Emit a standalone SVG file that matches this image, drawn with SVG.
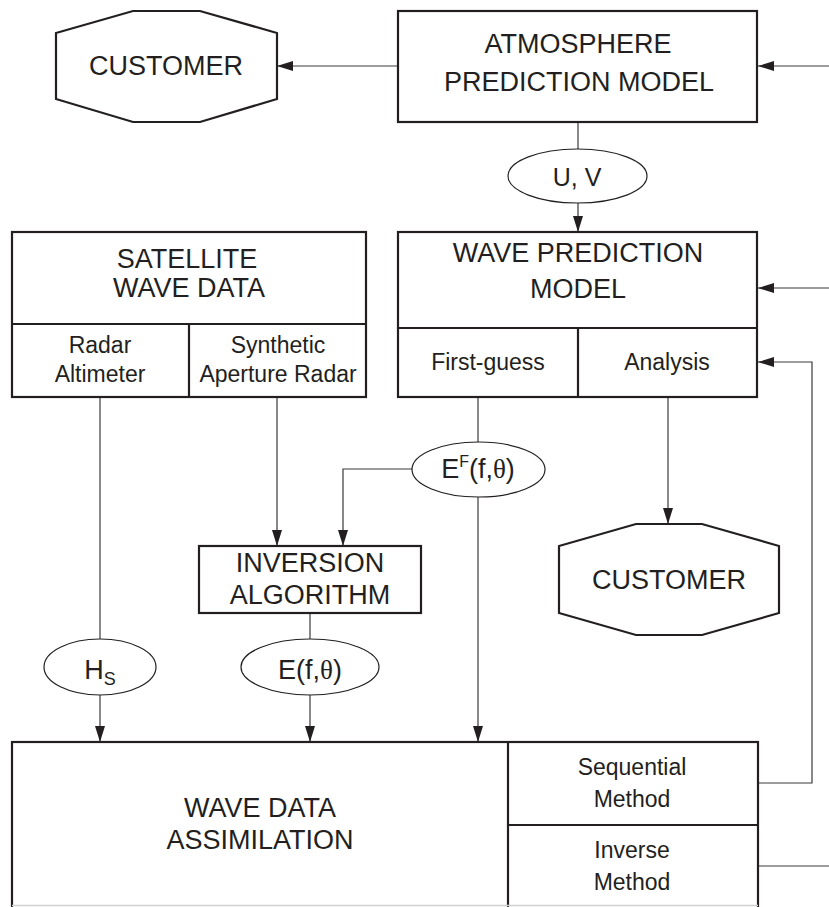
<svg xmlns="http://www.w3.org/2000/svg" width="829" height="907" viewBox="0 0 829 907">
<style>
.box{fill:#fff;stroke:#231f20;stroke-width:2.2}
.div{fill:none;stroke:#231f20;stroke-width:2.2}
.ell{fill:#fff;stroke:#231f20;stroke-width:1.2}
.con{fill:none;stroke:#3a3a3a;stroke-width:1.2}
.arr{marker-end:url(#ah)}
text{font-family:"Liberation Sans",Arial,Helvetica,sans-serif;fill:#231f20;text-anchor:middle}
.big{font-size:27px}
.sm{font-size:23px}
.gr{font-family:"Liberation Serif","DejaVu Serif",serif}
</style>
<defs>
<marker id="ah" viewBox="0 0 16 10" refX="16" refY="5" markerWidth="16" markerHeight="10" orient="auto" markerUnits="userSpaceOnUse">
<path d="M0,0 L16,5 L0,10 z" fill="#231f20"/>
</marker>
</defs>
<rect width="829" height="907" fill="#fff"/>

<g id="connectors">
<path class="con arr" d="M398,66 H277"/>
<path class="con arr" d="M829,66 H758"/>
<path class="con" d="M578,122 V149"/>
<path class="con arr" d="M578,203 V232"/>
<path class="con arr" d="M829,288 H758"/>
<path class="con arr" d="M758,783 H812 V362 H758"/>
<path class="con" d="M478,397 V442"/>
<path class="con arr" d="M668,397 V524"/>
<path class="con arr" d="M277,397 V546"/>
<path class="con arr" d="M412,469 H343 V546"/>
<path class="con arr" d="M478,497 V742"/>
<path class="con" d="M100,397 V639"/>
<path class="con arr" d="M100,695 V742"/>
<path class="con" d="M310,613 V639"/>
<path class="con arr" d="M310,695 V742"/>
<path class="con" d="M758,866 H829"/>
</g>

<g id="customer-top">
<polygon class="box" points="133,11 200,11 277,33 277,99 200,122 133,122 56,99 56,33"/>
<text class="big" x="166" y="75">CUSTOMER</text>
</g>

<g id="atmosphere-model">
<rect class="box" x="398" y="11" width="359" height="111"/>
<text class="big" x="578" y="53">ATMOSPHERE</text>
<text class="big" x="579" y="91">PREDICTION MODEL</text>
</g>

<g id="uv">
<ellipse class="ell" cx="577.5" cy="176" rx="69.5" ry="27"/>
<text class="big" x="577" y="186" style="font-size:25px">U, V</text>
</g>

<g id="satellite-data">
<rect class="box" x="12" y="232" width="354" height="165"/>
<path class="div" d="M12,324 H366 M189,324 V397"/>
<text class="big" x="187" y="268">SATELLITE</text>
<text class="big" x="189" y="297">WAVE DATA</text>
<text class="sm" x="100" y="353">Radar</text>
<text class="sm" x="100" y="382">Altimeter</text>
<text class="sm" x="278" y="353">Synthetic</text>
<text class="sm" x="278" y="382">Aperture Radar</text>
</g>

<g id="wave-model">
<rect class="box" x="398" y="232" width="359" height="165"/>
<path class="div" d="M398,328 H757 M578,328 V397"/>
<text class="big" x="578" y="262">WAVE PREDICTION</text>
<text class="big" x="578" y="298">MODEL</text>
<text class="sm" x="488" y="370">First-guess</text>
<text class="sm" x="667" y="370">Analysis</text>
</g>

<g id="ef">
<ellipse class="ell" cx="478.5" cy="469.5" rx="66.5" ry="27.5"/>
<text class="big" x="478" y="478">E<tspan dy="-11" style="font-size:16px">F</tspan><tspan dy="11">(f,</tspan><tspan class="gr">θ</tspan>)</text>
</g>

<g id="inversion">
<rect class="box" x="199" y="546" width="222" height="67"/>
<text class="big" x="310" y="572">INVERSION</text>
<text class="big" x="310" y="604">ALGORITHM</text>
</g>

<g id="customer-bottom">
<polygon class="box" points="636,524 702,524 779,546 779,613 702,635 636,635 559,613 559,546"/>
<text class="big" x="669" y="589">CUSTOMER</text>
</g>

<g id="hs">
<ellipse class="ell" cx="100" cy="667" rx="56" ry="28"/>
<text class="big" x="100" y="679">H<tspan dy="6" style="font-size:18px">S</tspan></text>
</g>

<g id="e">
<ellipse class="ell" cx="310" cy="667" rx="69" ry="28"/>
<text class="big" x="310" y="679">E(f,<tspan class="gr">θ</tspan>)</text>
</g>

<g id="assimilation">
<rect class="box" x="12" y="742" width="746" height="175"/>
<path class="div" d="M508,742 V907 M508,825 H758"/>
<line x1="12" y1="905.5" x2="758" y2="905.5" stroke="#cfcfcf" stroke-width="1.5"/>
<text class="big" x="260" y="817">WAVE DATA</text>
<text class="big" x="260" y="849">ASSIMILATION</text>
<text class="sm" x="632" y="775">Sequential</text>
<text class="sm" x="632" y="807">Method</text>
<text class="sm" x="632" y="858">Inverse</text>
<text class="sm" x="632" y="890">Method</text>
</g>
</svg>
